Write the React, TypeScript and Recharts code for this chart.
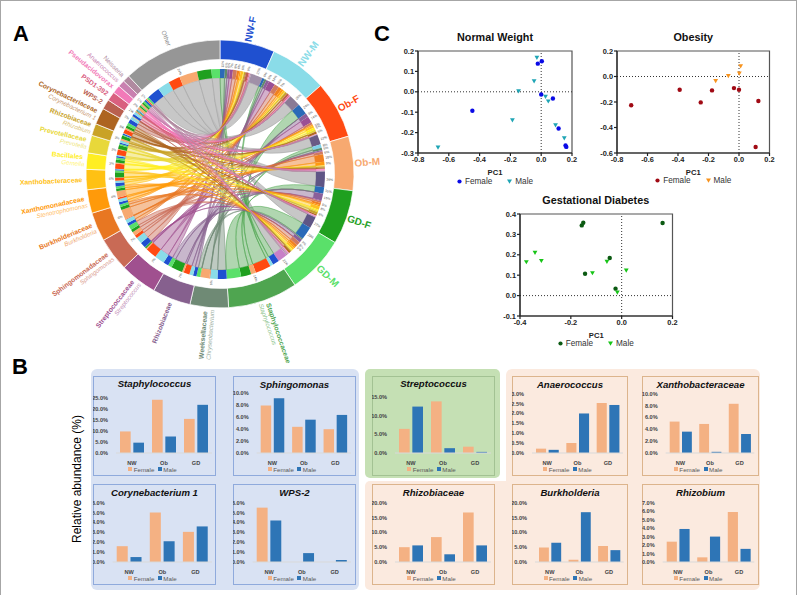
import {
  Bar, BarChart, Cell, Customized, Legend, Pie, PieChart, ReferenceArea, ReferenceLine,
  Scatter, ScatterChart, XAxis, YAxis
} from "recharts";

// ---- panel A data
const groupNames = ["NW-F", "NW-M", "Ob-F", "Ob-M", "GD-F", "GD-M"];
const taxonNames = [
  "Staphylococcaceae", "Weeksellaceae", "Rhizobiaceae", "Streptococcaceae", "Sphingomonadaceae", "Burkholderiaceae",
  "Xanthomonadaceae", "Xanthobacteraceae", "Bacillales", "Prevotellaceae", "Rhizobiaceae", "Corynebacteriaceae",
  "WPS-2", "PSD1-392", "Pseudacidovorax", "Anaerococcus", "Neisseria", "Other"
];
const genusNames = [
  "Staphylococcus", "Chryseobacterium", "", "Streptococcus", "Sphingomonas", "Burkholderia",
  "Stenotrophomonas", "", "Gemella", "Prevotella", "Rhizobium", "Corynebacterium 1",
  "", "", "", "", "", ""
];
const taxonPercent = ["14%", "6%", "7%", "7%", "7%", "6%", "4%", "4%", "3%", "3%", "3%", "3%", "2%", "2%", "2%", "1%", "1%", "24%"];
const staphFlow = [10, 4.8, 24, 7.5, 15.5, 22];
const weeksFlow = [5, 4, 0.3, 5, 0.1, 2];
const rhizobiaceaeFlow = [5, 5.5, 8.5, 2.5, 16.5, 5.5];
const streptoFlow = [6.5, 12.5, 14, 1.2, 1.7, 0.3];
const sphingoFlow = [8, 9.2, 4.4, 5.6, 4, 6.4];
const burkFlow = [5, 6.5, 1, 16.5, 5.5, 4];
const xanthomonasFlow = [3, 4, 2, 8, 3, 3];
const xanthobacFlow = [5.3, 3.6, 5, 0.2, 8.3, 3.2];
const bacillalesFlow = [1, 0.5, 5, 1, 3, 2];
const prevotellaFlow = [1, 1, 4, 0.5, 3, 1];
const rhizobiumFlow = [2.4, 3.9, 0.6, 3, 5.9, 1.5];
const coryneFlow = [1.6, 0.5, 5, 2.1, 3, 3.6];
const wpsFlow = [5.5, 4.2, 0, 0.9, 0, 0.2];
const psdFlow = [2, 2.5, 0.5, 0.5, 0.5, 0.2];
const pseudacidFlow = [0.8, 1, 0.6, 2.5, 1.5, 1];
const anaeroFlow = [0.2, 0.15, 0.5, 2, 2.5, 2.4];
const neisseriaFlow = [2, 0.3, 1, 0.5, 0.2, 2];
const otherFlow = [24, 23, 22, 34, 27, 16];
const flows = [
  staphFlow, weeksFlow, rhizobiaceaeFlow, streptoFlow, sphingoFlow, burkFlow, xanthomonasFlow, xanthobacFlow,
  bacillalesFlow, prevotellaFlow, rhizobiumFlow, coryneFlow, wpsFlow, psdFlow, pseudacidFlow, anaeroFlow,
  neisseriaFlow, otherFlow
];

// ---- panel A styling
const groupArc = [23.8, 24.9, 24.9, 23.6, 23.6, 25.2];
const taxonArc = [30.3, 16.7, 16.6, 16.1, 14.7, 12.6, 10.2, 8.8, 7.1, 7.7, 5.2, 7.2, 4.3, 4, 3.5, 3, 3, 43];
const groupColors = ["#1f50d0", "#8adce8", "#ff4a12", "#f7a970", "#1fa01f", "#5ae06a"];
const taxonColors = [
  "#4fa550", "#6f8a75", "#86608e", "#a0508f", "#c96a55", "#e87722", "#ff9a0a", "#ffc114", "#ffee22",
  "#e8d83a", "#c9a227", "#ad6420", "#b9604f", "#d9607f", "#f27ab8", "#c980b0", "#b08aa0", "#969696"
];
const flowEndColors = [
  "#2a6ab8", "#5f8a6a", "#8a5f9a", "#9a4f95", "#d07a60", "#f08020", "#ff9a10", "#ffc020", "#ffee20",
  "#e8d830", "#c9a227", "#b06a20", "#c0604f", "#e06a90", "#ff78c8", "#d090c0", "#b090a8"
];
const otherEndColors = ["#a090a8", "#8a7a95", "#6a5a85", "#5f5585", "#5f5585", "#c880c8"];

// ---- panel C data
const nwFemale = [[0.004, 0.15], [-0.022, 0.138], [0, -0.013], [0.076, -0.033], [-0.447, -0.093], [0.113, -0.18], [0.158, -0.263], [0.163, -0.27]];
const nwMale = [[-0.028, 0.167], [-0.046, 0.052], [-0.147, 0.003], [0.028, -0.024], [0.046, -0.047], [-0.187, -0.14], [0.093, -0.164], [0.15, -0.228], [-0.67, -0.273]];
const obFemale = [[-0.707, -0.226], [-0.389, -0.104], [-0.251, -0.203], [-0.177, -0.109], [-0.033, -0.091], [0, -0.104], [0.127, -0.192], [0.109, -0.553]];
const obMale = [[-0.153, -0.036], [-0.07, 0.003], [0.002, 0.023], [0.011, 0.08]];
const gdFemale = [[-0.157, 0.344], [-0.151, 0.357], [-0.144, 0.107], [-0.047, 0.184], [-0.024, 0.034], [0.161, 0.356]];
const gdMale = [[-0.375, 0.164], [-0.341, 0.21], [-0.316, 0.17], [-0.115, 0.11], [-0.058, 0.166], [0.018, 0.123], [-0.017, 0.015]];
const nwXTicks = [-0.8, -0.6, -0.4, -0.2, 0, 0.2];
const nwYTicks = [-0.3, -0.2, -0.1, 0, 0.1, 0.2];
const obYTicks = [-0.6, -0.4, -0.2, 0, 0.2];
const gdXTicks = [-0.4, -0.2, 0, 0.2];
const gdYTicks = [-0.1, 0, 0.1, 0.2, 0.3, 0.4];

// ---- panel B data
const barCategories = ["NW", "Ob", "GD"];
const staphFemale = [9.8, 24.2, 15.5];
const staphMale = [4.7, 7.5, 21.9];
const sphingFemale = [8, 4.4, 4];
const sphingMale = [9.2, 5.6, 6.4];
const coryneFemale = [1.6, 5, 3.05];
const coryneMale = [0.5, 2.1, 3.6];
const wpsFemale = [5.5, 0, 0];
const wpsMale = [4.2, 0.9, 0.2];
const streptoFemale = [6.5, 13.9, 1.7];
const streptoMale = [12.5, 1.3, 0.3];
const rhizobiaceaeFemale = [5, 8.4, 16.7];
const rhizobiaceaeMale = [5.6, 2.6, 5.6];
const anaeroFemale = [0.22, 0.5, 2.53];
const anaeroMale = [0.16, 2, 2.43];
const xanthoFemale = [5.3, 4.9, 8.3];
const xanthoMale = [3.6, 0.2, 3.2];
const burkFemale = [4.9, 0.8, 5.4];
const burkMale = [6.5, 16.8, 4];
const rhizobiumFemale = [2.4, 0.55, 5.9];
const rhizobiumMale = [3.9, 3, 1.55];

const FONT = "'Liberation Sans', Arial, sans-serif";
const FEMALE_BAR = "#f4b183";
const MALE_BAR = "#2e75b6";

// ---- chord layout
const CX = 220;
const CY = 174;
const RING_OUT = 134;
const RING_IN = 114.5;
const BAND_OUT = 105;
const BAND_IN = 96;

function sum(v: number[]) {
  return v.reduce((a, b) => a + b, 0);
}

function polar(angle: number, r: number) {
  const a = (angle * Math.PI) / 180;
  return { x: CX + r * Math.sin(a), y: CY - r * Math.cos(a) };
}

const sectorNames = [...groupNames, ...taxonNames];
const sectorArcs = [...groupArc, ...taxonArc];
const sectorColors = [...groupColors, ...taxonColors];
const outerRing = sectorNames.map((name, i) => ({ name, value: sectorArcs[i], fill: sectorColors[i] }));

interface Link {
  taxon: number;
  group: number;
  a0: number;
  a1: number;
  b0: number;
  b1: number;
  share: number;
}

const groupStart: number[] = [];
let cursor = 0;
groupArc.forEach((w) => {
  groupStart.push(cursor);
  cursor += w;
});
const taxonStart: number[] = [];
taxonArc.forEach((w) => {
  taxonStart.push(cursor);
  cursor += w;
});

const links: Link[] = [];
const bandRing: { name: string; value: number; fill: string }[] = [];

// group side: one slice per taxon, clockwise from the first taxon
groupNames.forEach((g, gi) => {
  const total = sum(flows.map((row) => row[gi]));
  let a = groupStart[gi];
  flows.forEach((row, ti) => {
    const w = (row[gi] / total) * groupArc[gi];
    links.push({ taxon: ti, group: gi, a0: 0, a1: 0, b0: a, b1: a + w, share: row[gi] / total });
    let fill = ti === flows.length - 1 ? otherEndColors[gi] : flowEndColors[ti];
    if (ti === 0 && gi === 3) fill = "#7fd0e8";
    bandRing.push({ name: `${g} ${taxonNames[ti]}`, value: w, fill });
    a += w;
  });
});

// taxon side: one slice per group, clockwise from the first group
flows.forEach((row, ti) => {
  const total = sum(row);
  let a = taxonStart[ti];
  row.forEach((v, gi) => {
    const w = (v / total) * taxonArc[ti];
    const link = links.find((l) => l.taxon === ti && l.group === gi);
    if (link) {
      link.a0 = a;
      link.a1 = a + w;
    }
    bandRing.push({ name: `${taxonNames[ti]} ${groupNames[gi]}`, value: w, fill: groupColors[gi] });
    a += w;
  });
});

function ribbonPath(l: Link) {
  const p0 = polar(l.a0, BAND_IN);
  const p1 = polar(l.a1, BAND_IN);
  const q0 = polar(l.b0, BAND_IN);
  const q1 = polar(l.b1, BAND_IN);
  const r = BAND_IN;
  return (
    `M${p0.x} ${p0.y}A${r} ${r} 0 0 1 ${p1.x} ${p1.y}` +
    `Q${CX} ${CY} ${q1.x} ${q1.y}` +
    `A${r} ${r} 0 0 0 ${q0.x} ${q0.y}` +
    `Q${CX} ${CY} ${p0.x} ${p0.y}Z`
  );
}

function RadialText(props: { angle: number; r: number; text: string; dy: number; size: number; fill: string; bold?: boolean; italic?: boolean; opacity?: number }) {
  const { angle, r, text, dy, size, fill, bold, italic, opacity } = props;
  const p = polar(angle, r);
  const right = angle < 180;
  const rot = right ? angle - 90 : angle + 90;
  return (
    <text
      transform={`translate(${p.x} ${p.y}) rotate(${rot})`}
      y={dy}
      textAnchor={right ? "start" : "end"}
      fontFamily={FONT}
      fontSize={size}
      fontWeight={bold ? 700 : 400}
      fontStyle={italic ? "italic" : "normal"}
      fill={fill}
      opacity={opacity}
    >
      {text}
    </text>
  );
}

function ChordOverlay() {
  const live = links.filter((l) => l.share > 0);
  const ordered = [
    ...live.filter((l) => l.taxon === flows.length - 1),
    ...live.filter((l) => l.taxon !== flows.length - 1)
  ];
  return (
    <g>
      {ordered.map((l) => {
        const isOther = l.taxon === flows.length - 1;
        const c = isOther ? "#a0a0a0" : taxonColors[l.taxon];
        return (
          <path
            key={`${l.taxon}-${l.group}`}
            d={ribbonPath(l)}
            fill={isOther ? "#bdbdbd" : c}
            fillOpacity={isOther ? 0.85 : 0.45}
            stroke={c}
            strokeWidth={0.6}
            strokeOpacity={0.9}
          />
        );
      })}
      {groupNames.map((g, i) => (
        <RadialText key={g} angle={groupStart[i] + groupArc[i] / 2} r={RING_OUT + 1} text={g} dy={3.5} size={10} fill={groupColors[i]} bold />
      ))}
      {taxonNames.map((t, i) => {
        const mid = taxonStart[i] + taxonArc[i] / 2;
        const genus = genusNames[i];
        const isOther = t === "Other";
        const family = isOther ? "#8a8a8a" : taxonColors[i];
        return (
          <g key={`${t}-${i}`}>
            <RadialText
              angle={mid}
              r={RING_OUT + 4}
              text={t}
              dy={genus ? -1.5 : 2.4}
              size={i > 14 ? 6.4 : 6.8}
              fill={family}
              bold={i <= 14}
            />
            {genus && (
              <RadialText angle={mid} r={RING_OUT + 2} text={genus} dy={5.5} size={6.2} fill={family} italic opacity={0.65} />
            )}
            <RadialText angle={mid} r={BAND_OUT + 1.5} text={taxonPercent[i]} dy={1.2} size={3.4} fill="#555" />
          </g>
        );
      })}
      {links
        .filter((l) => l.share >= 0.05)
        .map((l) => (
          <RadialText
            key={`p-${l.taxon}-${l.group}`}
            angle={(l.b0 + l.b1) / 2}
            r={BAND_OUT + 1.5}
            text={`${Math.round(l.share * 100)}%`}
            dy={1.2}
            size={3.4}
            fill="#555"
          />
        ))}
    </g>
  );
}

function ChordPanel() {
  return (
    <div style={{ position: "absolute", left: 0, top: 0 }}>
      <PieChart width={410} height={372} margin={{ top: 0, right: 0, bottom: 0, left: 0 }}>
        <Pie data={outerRing} dataKey="value" nameKey="name" cx={CX} cy={CY} innerRadius={RING_IN} outerRadius={RING_OUT} startAngle={90} endAngle={-270} stroke="#ffffff" strokeWidth={0.7} isAnimationActive={false}>
          {outerRing.map((d, i) => (
            <Cell key={i} fill={d.fill} />
          ))}
        </Pie>
        <Pie data={bandRing} dataKey="value" nameKey="name" cx={CX} cy={CY} innerRadius={BAND_IN} outerRadius={BAND_OUT} startAngle={90} endAngle={-270} stroke="none" isAnimationActive={false}>
          {bandRing.map((d, i) => (
            <Cell key={i} fill={d.fill} />
          ))}
        </Pie>
        <Customized component={ChordOverlay} />
      </PieChart>
    </div>
  );
}

// ---- scatter panels
function toPoints(rows: number[][]) {
  return rows.map(([x, y]) => ({ x, y }));
}

function DownTriangle(props: any) {
  const cx = props.cx ?? props.x + props.width / 2;
  const cy = props.cy ?? props.y + props.height / 2;
  return <path d={`M${cx - 2.4} ${cy - 2}L${cx + 2.4} ${cy - 2}L${cx} ${cy + 2.2}Z`} fill={props.fill} />;
}

function Dot(props: any) {
  const cx = props.cx ?? props.x + props.width / 2;
  const cy = props.cy ?? props.y + props.height / 2;
  return <circle cx={cx} cy={cy} r={2.2} fill={props.fill} />;
}

function ScatterLegend({ female, male }: { female: string; male: string }) {
  return (
    <div style={{ display: "flex", justifyContent: "center", alignItems: "center", gap: 15, fontFamily: FONT, fontSize: 8.2, color: "#333", height: 12 }}>
      <span style={{ display: "flex", alignItems: "center", gap: 3 }}>
        <svg width={5} height={5}><circle cx={2.5} cy={2.5} r={2.1} fill={female} /></svg>
        Female
      </span>
      <span style={{ display: "flex", alignItems: "center", gap: 3 }}>
        <svg width={5} height={5}><path d="M0 0.5L5 0.5L2.5 4.8Z" fill={male} /></svg>
        Male
      </span>
    </div>
  );
}

interface ScatterPanelProps {
  title: string;
  left: number;
  top: number;
  plotW: number;
  plotH: number;
  female: number[][];
  male: number[][];
  femaleColor: string;
  maleColor: string;
  xDomain: [number, number];
  yDomain: [number, number];
  xTicks: number[];
  yTicks: number[];
  titleY: number;
}

function ScatterPanel({ title, left, top, plotW, plotH, female, male, femaleColor, maleColor, xDomain, yDomain, xTicks, yTicks, titleY }: ScatterPanelProps) {
  const axisW = 30;
  const tick = { fontSize: 7.4, fontWeight: 700, fill: "#222", fontFamily: FONT };
  const fmt = (v: number) => v.toFixed(1);
  return (
    <>
      <div style={{ position: "absolute", left, width: plotW, top: titleY - 7, height: 14, lineHeight: "14px", textAlign: "center", fontFamily: FONT, fontWeight: 700, fontSize: 10.8, color: "#111", whiteSpace: "nowrap" }}>{title}</div>
      <div style={{ position: "absolute", left: left - axisW, top: top - 6 }}>
        <ScatterChart width={axisW + plotW + 10} height={6 + plotH + 22 + 12} margin={{ top: 6, right: 10, bottom: 0, left: 0 }}>
          <XAxis type="number" dataKey="x" domain={xDomain} ticks={xTicks} tickFormatter={fmt} tick={tick} height={22} interval={0} tickSize={3} tickMargin={1} stroke="#222" strokeWidth={1.2} label={{ value: "PC1", position: "insideBottom", offset: 0, fontSize: 7.6, fontWeight: 700, fill: "#222", fontFamily: FONT }} />
          <YAxis type="number" dataKey="y" domain={yDomain} ticks={yTicks} tickFormatter={fmt} tick={tick} width={axisW} interval={0} tickSize={3} tickMargin={1} stroke="#222" strokeWidth={1.2} />
          <ReferenceArea x1={xDomain[0]} x2={xDomain[1]} y1={yDomain[0]} y2={yDomain[1]} fill="none" stroke="#555" strokeWidth={1.2} ifOverflow="visible" />
          <ReferenceLine x={0} stroke="#333" strokeDasharray="1 2" />
          <ReferenceLine y={0} stroke="#333" strokeDasharray="1 2" />
          <Legend height={12} verticalAlign="bottom" wrapperStyle={{ left: axisW, width: plotW }} content={() => <ScatterLegend female={femaleColor} male={maleColor} />} />
          <Scatter name="Female" data={toPoints(female)} fill={femaleColor} shape={Dot} isAnimationActive={false} />
          <Scatter name="Male" data={toPoints(male)} fill={maleColor} shape={DownTriangle} isAnimationActive={false} />
        </ScatterChart>
      </div>
    </>
  );
}

// ---- bar panels
function BarLegend() {
  const items = [
    { label: "Female", color: FEMALE_BAR },
    { label: "Male", color: MALE_BAR }
  ];
  return (
    <div style={{ display: "flex", justifyContent: "center", alignItems: "center", gap: 3.5, height: 12, fontFamily: FONT, fontSize: 6.2, color: "#595959" }}>
      {items.map((it) => (
        <span key={it.label} style={{ display: "flex", alignItems: "center", gap: 1.5 }}>
          <span style={{ width: 4, height: 4, background: it.color, display: "inline-block" }} />
          {it.label}
        </span>
      ))}
    </div>
  );
}

interface BarPanelProps {
  title: string;
  female: number[];
  male: number[];
  ticks: number[];
  x: number;
  y: number;
  w: number;
  h: number;
  plotLeft: number;
  plotRight: number;
  plotTop: number;
  border: string;
}

function BarPanel({ title, female, male, ticks, x, y, w, h, plotLeft, plotRight, plotTop, border }: BarPanelProps) {
  const data = barCategories.map((name, i) => ({ name, female: female[i], male: male[i] }));
  const axisW = plotLeft - x;
  const tick = { fontSize: 5.6, fontWeight: 700, fill: "#444", fontFamily: FONT };
  const band = (plotRight - plotLeft) / 3;
  return (
    <div style={{ position: "absolute", left: x, top: y, width: w, height: h, boxSizing: "border-box", border: `1px solid ${border}` }}>
      <div style={{ position: "absolute", left: -1, right: -1, top: plotTop - y > 20 ? 0 : 1, height: 14, lineHeight: "14px", textAlign: "center", fontFamily: FONT, fontWeight: 700, fontStyle: "italic", fontSize: 9.6, color: "#111", whiteSpace: "nowrap" }}>{title}</div>
      <div style={{ position: "absolute", left: -1, top: -1 }}>
        <BarChart width={w} height={h} data={data} barSize={band / 3} barGap={band / 12} margin={{ top: plotTop - y, right: x + w - plotRight, bottom: 1, left: 0 }}>
          <XAxis dataKey="name" height={10} tick={tick} tickLine={false} stroke="#d9d9d9" tickMargin={2} interval={0} />
          <YAxis domain={[0, ticks[ticks.length - 1]]} ticks={ticks} width={axisW} tick={tick} tickLine={false} axisLine={false} tickMargin={2} interval={0} tickFormatter={(v: number) => `${v.toFixed(1)}%`} />
          <Legend height={12} content={() => <BarLegend />} />
          <Bar dataKey="female" name="Female" fill={FEMALE_BAR} isAnimationActive={false} />
          <Bar dataKey="male" name="Male" fill={MALE_BAR} isAnimationActive={false} />
        </BarChart>
      </div>
    </div>
  );
}

const panelLetter = { position: "absolute", fontFamily: FONT, fontWeight: 700, fontSize: 22, lineHeight: "22px", color: "#000" } as const;
const BLUE = "#8faadc";
const GREEN = "#a3c293";
const PEACH = "#dcb48c";

export default function App() {
  return (
    <div style={{ position: "absolute", left: 0, top: 0, width: 798, height: 595, background: "#fff", overflow: "hidden" }}>
      <div style={{ position: "absolute", left: 0, top: 0, width: 797, height: 600, boxSizing: "border-box", border: "1px solid #a6a6a6" }} />
      <div style={{ position: "absolute", left: 91, top: 369, width: 268, height: 221, borderRadius: 6, background: "#d9e2f3" }} />
      <div style={{ position: "absolute", left: 365, top: 369, width: 135, height: 109, borderRadius: 5, background: "#c5e0b4" }} />
      <div style={{ position: "absolute", left: 506, top: 369, width: 254, height: 221, borderRadius: 6, background: "#fbeadf" }} />
      <div style={{ position: "absolute", left: 365, top: 481, width: 150, height: 109, borderRadius: 5, background: "#fbeadf" }} />

      <ChordPanel />

      <div style={{ ...panelLetter, left: 13, top: 23 }}>A</div>
      <div style={{ ...panelLetter, left: 12, top: 356 }}>B</div>
      <div style={{ ...panelLetter, left: 374, top: 23 }}>C</div>

      <ScatterPanel title="Normal Weight" left={418} top={51} plotW={154} plotH={102} female={nwFemale} male={nwMale} femaleColor="#0a0ae6" maleColor="#1fa5b5" xDomain={[-0.8, 0.2]} yDomain={[-0.3, 0.2]} xTicks={nwXTicks} yTicks={nwYTicks} titleY={37} />
      <ScatterPanel title="Obesity" left={617} top={50.5} plotW={152.5} plotH={102} female={obFemale} male={obMale} femaleColor="#a00a14" maleColor="#f7931e" xDomain={[-0.8, 0.2]} yDomain={[-0.6, 0.2]} xTicks={nwXTicks} yTicks={obYTicks} titleY={37} />
      <ScatterPanel title="Gestational Diabetes" left={519.5} top={213.7} plotW={152.5} plotH={102} female={gdFemale} male={gdMale} femaleColor="#0b5a12" maleColor="#17c417" xDomain={[-0.4, 0.2]} yDomain={[-0.1, 0.4]} xTicks={gdXTicks} yTicks={gdYTicks} titleY={199.7} />

      <div style={{ position: "absolute", left: 77, top: 479, width: 0, height: 0 }}>
        <div style={{ position: "absolute", transform: "translate(-50%,-50%) rotate(-90deg)", whiteSpace: "nowrap", fontFamily: FONT, fontSize: 12, color: "#000" }}>Relative abundance (%)</div>
      </div>

      <BarPanel title="Staphylococcus" female={staphFemale} male={staphMale} ticks={[0, 5, 10, 15, 20, 25]} x={93} y={376} w={123} h={100} plotLeft={116} plotRight={212} plotTop={398} border={BLUE} />
      <BarPanel title="Sphingomonas" female={sphingFemale} male={sphingMale} ticks={[0, 2, 4, 6, 8, 10]} x={233} y={376} w={123} h={100} plotLeft={256.7} plotRight={351} plotTop={393.5} border={BLUE} />
      <BarPanel title="Corynebacterium 1" female={coryneFemale} male={coryneMale} ticks={[0, 1, 2, 3, 4, 5, 6]} x={93} y={484} w={123} h={101} plotLeft={112.7} plotRight={212} plotTop={502.7} border={BLUE} />
      <BarPanel title="WPS-2" female={wpsFemale} male={wpsMale} ticks={[0, 1, 2, 3, 4, 5, 6]} x={233} y={484} w={123} h={101} plotLeft={252.7} plotRight={351} plotTop={502.7} border={BLUE} />
      <BarPanel title="Streptococcus" female={streptoFemale} male={streptoMale} ticks={[0, 5, 10, 15]} x={372} y={376} w={123} h={100} plotLeft={395} plotRight={491} plotTop={397.3} border={GREEN} />
      <BarPanel title="Rhizobiaceae" female={rhizobiaceaeFemale} male={rhizobiaceaeMale} ticks={[0, 5, 10, 15, 20]} x={372} y={484} w={123} h={101} plotLeft={395} plotRight={491} plotTop={502.7} border={PEACH} />
      <BarPanel title="Anaerococcus" female={anaeroFemale} male={anaeroMale} ticks={[0, 0.5, 1, 1.5, 2, 2.5, 3]} x={512} y={376} w={116} h={100} plotLeft={532} plotRight={623} plotTop={393.7} border={PEACH} />
      <BarPanel title="Xanthobacteraceae" female={xanthoFemale} male={xanthoMale} ticks={[0, 2, 4, 6, 8, 10]} x={642} y={376} w={117} h={100} plotLeft={665.7} plotRight={754.3} plotTop={393.7} border={PEACH} />
      <BarPanel title="Burkholderia" female={burkFemale} male={burkMale} ticks={[0, 5, 10, 15, 20]} x={512} y={484} w={116} h={101} plotLeft={535} plotRight={623.7} plotTop={502.7} border={PEACH} />
      <BarPanel title="Rhizobium" female={rhizobiumFemale} male={rhizobiumMale} ticks={[0, 1, 2, 3, 4, 5, 6, 7]} x={642} y={484} w={117} h={101} plotLeft={662.7} plotRight={754.3} plotTop={502.7} border={PEACH} />
    </div>
  );
}
